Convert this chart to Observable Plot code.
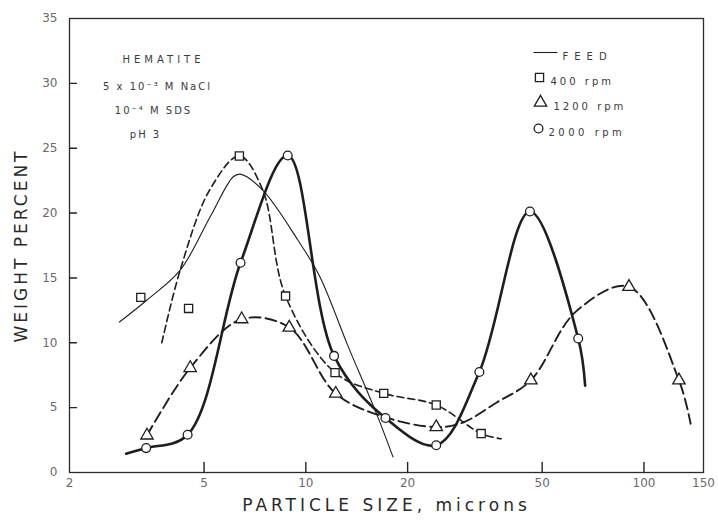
<!DOCTYPE html>
<html>
<head>
<meta charset="utf-8">
<script src="https://cdn.jsdelivr.net/npm/d3@7"></script>
<script src="https://cdn.jsdelivr.net/npm/@observablehq/plot@0.6"></script>
<style>
  body { margin: 0; background: #fff; }
</style>
</head>
<body>
<div id="chart"></div>
<script>
// Particle size distributions of hematite (weight percent vs. particle size, log axis)

// Axis ticks
const xTicks = [2, 5, 10, 20, 50, 100, 150];
const yTicks = [0, 5, 10, 15, 20, 25, 30, 35];

// FEED: smooth curve only, no measured markers — [size µm, weight %]
const feedCurve = [
  [2.81, 11.6], [3.39, 13.3], [4.25, 15.6], [5.21, 19.7], [6.1, 22.8], [6.4, 23.0],
  [7.43, 21.8], [9.48, 17.9], [11.0, 15.1], [13.3, 9.8], [16.2, 4.5], [18.1, 1.2]
];

// 400 rpm: measured points and the dashed curve drawn through them
const rpm400Points = [
  [3.25, 13.5], [4.5, 12.65], [6.36, 24.4], [8.71, 13.6], [12.2, 7.7],
  [17.0, 6.1], [24.3, 5.2], [33.0, 3.0]
];
const rpm400Curve = [
  [3.75, 10.0], [4.25, 15.6], [5.2, 21.8], [6.36, 24.4], [7.45, 21.8], [8.71, 13.6],
  [12.2, 7.7], [17.0, 6.1], [24.3, 5.2], [33.0, 3.0], [37.8, 2.6]
];

// 1200 rpm
const rpm1200Points = [
  [3.39, 2.86], [4.55, 8.06], [6.46, 11.82], [8.93, 11.18], [12.26, 6.08],
  [24.3, 3.5], [46.3, 7.11], [90.3, 14.32], [126.9, 7.11]
];
const rpm1200Curve = [
  [3.39, 2.86], [4.55, 8.06], [6.46, 11.82], [8.93, 11.18], [12.26, 6.08], [17.0, 4.3],
  [24.3, 3.5], [29.1, 3.85], [36.7, 5.4], [46.3, 7.11], [62.9, 12.4], [90.3, 14.32],
  [126.9, 7.11], [137.4, 3.76]
];

// 2000 rpm
const rpm2000Points = [
  [3.37, 1.88], [4.47, 2.91], [6.41, 16.17], [8.84, 24.44], [12.12, 8.99],
  [17.2, 4.2], [24.3, 2.1], [32.6, 7.75], [46.0, 20.12], [63.9, 10.33]
];
const rpm2000Curve = [
  [2.94, 1.45], [3.37, 1.88], [4.47, 2.91], [6.41, 16.17], [8.84, 24.44], [12.12, 8.99],
  [17.2, 4.2], [24.3, 2.1], [32.6, 7.75], [46.0, 20.12], [63.9, 10.33], [67.0, 6.7]
];

// Legend entries and condition notes
const legendLabels = ["FEED", "400 rpm", "1200 rpm", "2000 rpm"];
const conditionLines = ["HEMATITE", "5 x 10\u207B\u00B3 M NaCl", "10\u207B\u2074 M SDS", "pH 3"];

const ink = "#1e1e1e";
const px = d => d[0], py = d => d[1];

const W = 718, H = 526, mL = 69, mR = 15, mT = 18, mB = 54;
const xDomain = [2, 150], yDomain = [0, 35];
const innerW = W - mL - mR, innerH = H - mT - mB;

// inward tick segments, expressed in scale units so they stay a fixed pixel length
const yPerPx = (yDomain[1] - yDomain[0]) / innerH;
const xPerPx = Math.pow(xDomain[1] / xDomain[0], 1 / innerW);
const xTickSegs = xTicks.slice(1, -1).flatMap(t => [
  { k: t, x: t, y: yDomain[0] },
  { k: t, x: t, y: yDomain[0] + 10 * yPerPx }
]);
const yTickSegs = yTicks.slice(1, -1).flatMap(t => [
  { k: t, x: xDomain[0], y: t },
  { k: t, x: xDomain[0] * Math.pow(xPerPx, 7), y: t }
]);

// short horizontal stroke used as the FEED legend key
const dashKey = { draw(ctx) { ctx.moveTo(-12, 0); ctx.lineTo(12, 0); } };

const noteStyle = { fontSize: 10, fill: "#3a3a3a", fontFamily: "DejaVu Sans" };
const tickLabelStyle = { fontSize: 12, fill: "#6a6a6a" };

const chart = Plot.plot({
  width: W,
  height: H,
  marginLeft: mL,
  marginRight: mR,
  marginTop: mT,
  marginBottom: mB,
  style: { fontFamily: "DejaVu Sans", background: "#fff", color: ink },
  x: { type: "log", domain: xDomain, axis: null },
  y: { domain: yDomain, axis: null },
  marks: [
    Plot.frame({ stroke: "#2b2b2b", strokeWidth: 1.3 }),

    // tick marks and labels
    Plot.line(xTickSegs, { x: "x", y: "y", z: "k", stroke: "#222", strokeWidth: 1.4 }),
    Plot.line(yTickSegs, { x: "x", y: "y", z: "k", stroke: "#222", strokeWidth: 1.4 }),
    Plot.text(xTicks, { x: d => d, text: d => String(d), frameAnchor: "bottom", dy: 14, ...tickLabelStyle }),
    Plot.text(yTicks, { y: d => d, text: d => String(d), frameAnchor: "left", dx: -12, textAnchor: "end", ...tickLabelStyle }),

    // axis titles
    Plot.text(["WEIGHT PERCENT"], { frameAnchor: "left", dx: -48, rotate: -90, textAnchor: "middle", fontSize: 17, fill: "#2a2a2a" }),
    Plot.text(["PARTICLE SIZE, microns"], { frameAnchor: "bottom", dy: 38, textAnchor: "middle", fontSize: 17, fill: "#2a2a2a" }),

    // curves
    Plot.line(feedCurve, { x: px, y: py, curve: "catmull-rom", stroke: ink, strokeWidth: 1.1 }),
    Plot.line(rpm400Curve, { x: px, y: py, curve: "catmull-rom", stroke: ink, strokeWidth: 1.6, strokeDasharray: "7,4" }),
    Plot.line(rpm1200Curve, { x: px, y: py, curve: "catmull-rom", stroke: ink, strokeWidth: 1.9, strokeDasharray: "11,5" }),
    Plot.line(rpm2000Curve, { x: px, y: py, curve: "catmull-rom", stroke: ink, strokeWidth: 2.6 }),

    // measured points
    Plot.dot(rpm400Points, { x: px, y: py, symbol: "square", r: 4.6, fill: "#fff", stroke: ink, strokeWidth: 1.3 }),
    Plot.dot(rpm1200Points, { x: px, y: py, symbol: "triangle", r: 4.6, fill: "#fff", stroke: ink, strokeWidth: 1.3 }),
    Plot.dot(rpm2000Points, { x: px, y: py, symbol: "circle", r: 4.4, fill: "#fff", stroke: ink, strokeWidth: 1.3 }),

    // conditions note
    Plot.text([conditionLines[0]], { frameAnchor: "top-left", dx: 94, dy: 37, textAnchor: "middle", ...noteStyle }),
    Plot.text([conditionLines[1]], { frameAnchor: "top-left", dx: 88, dy: 64, textAnchor: "middle", ...noteStyle }),
    Plot.text([conditionLines[2]], { frameAnchor: "top-left", dx: 84, dy: 88, textAnchor: "middle", ...noteStyle }),
    Plot.text([conditionLines[3]], { frameAnchor: "top-left", dx: 76, dy: 112, textAnchor: "middle", ...noteStyle }),

    // legend
    Plot.dot([0], { frameAnchor: "top-right", dx: -158, dy: 34, symbol: dashKey, r: 3, stroke: ink, strokeWidth: 1.1, fill: "none" }),
    Plot.dot([0], { frameAnchor: "top-right", dx: -164, dy: 59, symbol: "square", r: 4.6, fill: "#fff", stroke: ink, strokeWidth: 1.3 }),
    Plot.dot([0], { frameAnchor: "top-right", dx: -163, dy: 84, symbol: "triangle", r: 4.6, fill: "#fff", stroke: ink, strokeWidth: 1.3 }),
    Plot.dot([0], { frameAnchor: "top-right", dx: -165, dy: 110, symbol: "circle", r: 4.4, fill: "#fff", stroke: ink, strokeWidth: 1.3 }),
    Plot.text([legendLabels[0]], { frameAnchor: "top-right", dx: -141, dy: 34, textAnchor: "start", ...noteStyle }),
    Plot.text([legendLabels[1]], { frameAnchor: "top-right", dx: -153, dy: 59, textAnchor: "start", ...noteStyle }),
    Plot.text([legendLabels[2]], { frameAnchor: "top-right", dx: -150, dy: 84, textAnchor: "start", ...noteStyle }),
    Plot.text([legendLabels[3]], { frameAnchor: "top-right", dx: -155, dy: 110, textAnchor: "start", ...noteStyle })
  ]
});

// widen the lettering of titles and notes
const spacing = new Map([
  ["WEIGHT PERCENT", "3px"],
  ["PARTICLE SIZE, microns", "4px"],
  [conditionLines[0], "4px"],
  [conditionLines[1], "2px"],
  [conditionLines[2], "2px"],
  [conditionLines[3], "2px"],
  [legendLabels[0], "6px"],
  [legendLabels[1], "3px"],
  [legendLabels[2], "3px"],
  [legendLabels[3], "3.5px"]
]);
chart.querySelectorAll("text").forEach(t => {
  const s = spacing.get(t.textContent);
  if (s) t.setAttribute("letter-spacing", s);
});

document.getElementById("chart").append(chart);
</script>
</body>
</html>
